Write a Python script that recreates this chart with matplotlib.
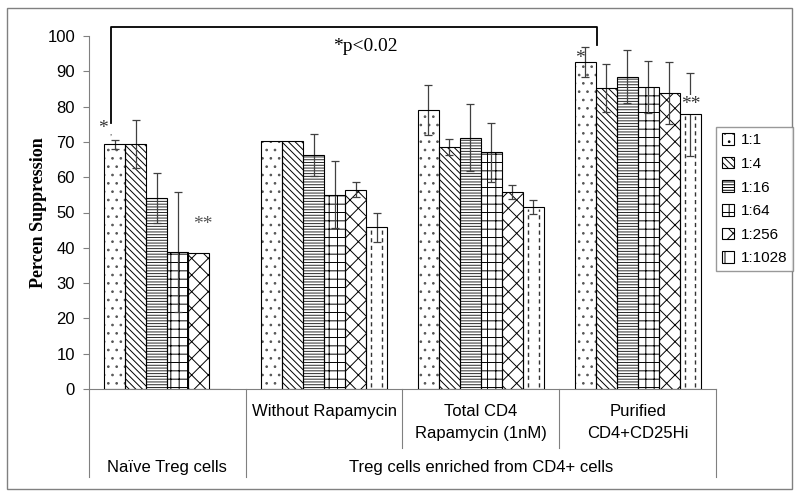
import numpy as np
import matplotlib
matplotlib.use("Agg")
import matplotlib.pyplot as plt
from matplotlib.patches import Patch, Rectangle
import matplotlib.transforms as mtransforms

# data
groups = ["Naïve", "Without Rapamycin", "Total CD4\nRapamycin (1nM)", "Purified\nCD4+CD25Hi"]
ratios = ["1:1", "1:4", "1:16", "1:64", "1:256", "1:1028"]
# rows = ratio, cols = group
values = [
    [69.3, 70.2, 79.0, 92.7],
    [69.3, 70.2, 68.5, 85.3],
    [54.1, 66.3, 71.2, 88.4],
    [38.7, 55.0, 67.0, 85.6],
    [38.6, 56.5, 55.8, 83.9],
    [0.0, 45.8, 51.6, 77.8],
]
errors = [
    [1.3, 0.0, 7.0, 4.2],
    [6.8, 0.0, 2.3, 6.8],
    [7.1, 5.9, 9.5, 7.5],
    [17.0, 9.5, 8.3, 7.4],
    [0.0, 2.1, 1.9, 8.7],
    [0.0, 4.2, 1.9, 11.7],
]
hatches = ["..", "\\" * 5, "-" * 6, "++", "xx", ""]
hatch_colors = ["#555555", "black", "#2a2a2a", "black", "black", "black"]

plt.rcParams["font.family"] = ["Liberation Sans", "DejaVu Sans"]
plt.rcParams["hatch.linewidth"] = 0.7

fig = plt.figure(figsize=(8, 4.93), dpi=100)
ax = fig.add_axes([89 / 800, 1 - 389 / 493, (716 - 89) / 800, (389 - 36) / 493])

x = np.arange(len(groups))
w = 0.134
for j, r in enumerate(ratios):
    pos = x + (j - 2.5) * w
    vals = values[j]
    # hatch layer
    ax.bar(pos, vals, w, color="white", edgecolor=hatch_colors[j], linewidth=0,
           hatch=hatches[j], zorder=2)
    # outline
    ax.bar(pos, vals, w, fill=False, edgecolor="black", linewidth=0.8, zorder=5)
    if r == "1:1028":
        for p, v in zip(pos, vals):
            if v <= 0:
                continue
            for k in (0.25, 0.75):
                ax.plot([p - w / 2 + k * w] * 2, [0.5, v - 0.5], color="#333333",
                        lw=1.0, ls=(0, (3, 2.5)), zorder=2.5)
    errs = np.array(errors[j])
    m = errs > 0
    ax.errorbar(pos[m], np.array(vals)[m], yerr=errs[m], fmt="none", ecolor="#404040",
                elinewidth=0.9, capsize=3, capthick=0.9, zorder=4)

ax.set_xlim(-0.5, 3.5)
ax.set_ylim(0, 100)
ax.set_yticks(range(0, 101, 10))
ax.set_xticks([])
for s in ["top", "right"]:
    ax.spines[s].set_visible(False)
ax.spines["left"].set_color("#808080")
ax.spines["bottom"].set_color("#808080")
ax.spines["left"].set_linewidth(0.8)
ax.spines["bottom"].set_linewidth(0.8)
ax.tick_params(axis="y", direction="out", length=4, color="#808080", labelsize=12, pad=6)
ax.set_ylabel("Percen Suppression", family=["Liberation Serif"], fontweight="bold",
              fontsize=13, labelpad=0)

# category axis labels and separators
tr = mtransforms.blended_transform_factory(ax.transData, ax.transAxes)
for xs, ybot in [(-0.5, -0.25), (0.5, -0.25), (3.5, -0.25), (1.5, -0.167), (2.5, -0.167)]:
    ax.plot([xs, xs], [0, ybot], color="#808080", lw=0.8, transform=tr, clip_on=False)
for i, g in enumerate(groups[1:], start=1):
    ax.text(i, -0.043, g, transform=tr, ha="center", va="top", fontsize=12, linespacing=1.6)
ax.text(0, -0.222, "Naïve Treg cells", transform=tr, ha="center", va="center", fontsize=12)
ax.text(2, -0.222, "Treg cells enriched from CD4+ cells", transform=tr, ha="center",
        va="center", fontsize=12)

# significance annotations
ax.plot([-0.36, -0.36, 2.74, 2.74], [75.4, 102.5, 102.5, 97.5], color="black", lw=1.3,
        clip_on=False, zorder=6)
serif = ["Liberation Serif"]
ax.text(1.26, 96.9, "*p<0.02", family=serif, fontsize=14, ha="center", va="center")
ax.text(-0.41, 73.8, "*", family=serif, fontsize=14, ha="center", va="center", color="#333333")
ax.text(-0.36, 72.6, ",", family=serif, fontsize=6, ha="center", va="center", color="#333333")
ax.text(0.226, 46.5, "**", family=serif, fontsize=14, ha="center", va="center", color="#555555")
ax.text(2.63, 93.5, "*", family=serif, fontsize=14, ha="center", va="center", color="#333333")
ax.text(3.34, 80.6, "**", family=serif, fontsize=14, ha="center", va="center", color="#333333",
        bbox=dict(facecolor="white", edgecolor="none", pad=0.5), zorder=4.5)

handles = [Patch(facecolor="white", edgecolor="black", hatch=(h if h else "|"), linewidth=0.8)
           for h in hatches]
fig.legend(handles, ratios, loc="upper left", bbox_to_anchor=(716 / 800, 1 - 127 / 493),
           frameon=True, fancybox=False, edgecolor="#808080", fontsize=11,
           handlelength=0.8, handleheight=0.8, handletextpad=0.4, labelspacing=0.62,
           borderpad=0.4, borderaxespad=0)

fig.patches.append(Rectangle((7 / 800, 1 - 489 / 493), 785 / 800, 481 / 493, fill=False,
                             edgecolor="#808080", lw=1.0, transform=fig.transFigure))

fig.savefig("out.png", dpi=100)
